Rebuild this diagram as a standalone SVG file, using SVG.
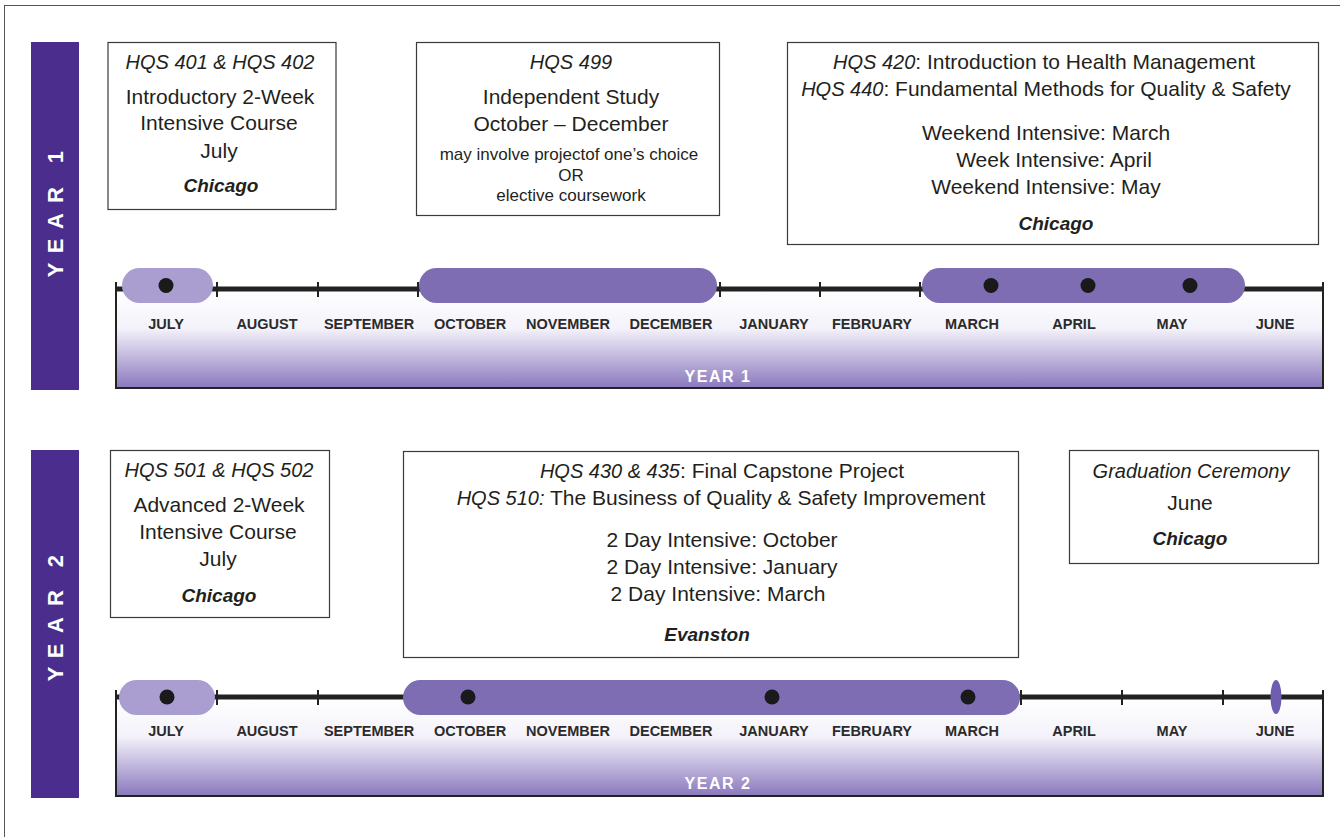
<svg xmlns="http://www.w3.org/2000/svg" width="1340" height="837" viewBox="0 0 1340 837">
<defs>
<linearGradient id="band" x1="0" y1="0" x2="0" y2="1">
<stop offset="0" stop-color="#ffffff"/>
<stop offset="0.4" stop-color="#f4f2fa"/>
<stop offset="1" stop-color="#8a78be"/>
</linearGradient>
<style>
text{font-family:"Liberation Sans",Arial,sans-serif;fill:#231f20;text-anchor:middle}
.t{font-size:21px}
.s{font-size:17px}
.i{font-style:italic;font-size:20px}
.city{font-style:italic;font-weight:bold;font-size:19px}
.m{font-size:14.5px;font-weight:bold;fill:#2b2b2b}
.yl{font-size:16px;font-weight:bold;fill:#ffffff;letter-spacing:1.5px}
.side{font-size:22px;font-weight:bold;fill:#ffffff}
.box{fill:#ffffff;stroke:#3a3a3a;stroke-width:1.2}
.bar{fill:#4a2d8d}
.axis{stroke:#222;stroke-width:5}
.tick{stroke:#222;stroke-width:2}
.edge{stroke:#222;stroke-width:2;fill:none}
.dark{fill:#7e6db3}
.light{fill:#aa9ed1}
.dot{fill:#1a1a1a}
</style>
</defs>
<rect x="4.5" y="5.5" width="1400" height="900" fill="none" stroke="#555" stroke-width="1"/>

<!-- Year 1 -->
<g id="year1-sidebar">
<rect class="bar" x="31" y="42" width="48" height="348"/>
<text class="side" transform="rotate(-90)" x="-270 -246 -221 -195 -176 -157" y="63">YEAR 1</text>
</g>

<g id="year1-timeline">
<rect x="116" y="289" width="1207" height="99" fill="url(#band)"/>
<path class="edge" d="M116 282 V388 H1323 V282"/>
<line class="axis" x1="116" y1="289" x2="1323" y2="289"/>
<line class="tick" x1="217" y1="282" x2="217" y2="297"/>
<line class="tick" x1="318" y1="282" x2="318" y2="297"/>
<line class="tick" x1="418" y1="282" x2="418" y2="297"/>
<line class="tick" x1="720" y1="282" x2="720" y2="297"/>
<line class="tick" x1="820" y1="282" x2="820" y2="297"/>
<line class="tick" x1="920" y1="282" x2="920" y2="297"/>
<rect class="light" x="122" y="268" width="91" height="35" rx="17.5"/>
<circle class="dot" cx="166" cy="285.5" r="7.5"/>
<rect class="dark" x="419" y="268" width="298" height="35" rx="17.5"/>
<rect class="dark" x="922" y="268" width="323" height="35" rx="17.5"/>
<circle class="dot" cx="991" cy="285.5" r="7.5"/>
<circle class="dot" cx="1088" cy="285.5" r="7.5"/>
<circle class="dot" cx="1190" cy="285.5" r="7.5"/>
<text class="m" x="166" y="329">JULY</text>
<text class="m" x="267" y="329">AUGUST</text>
<text class="m" x="369" y="329">SEPTEMBER</text>
<text class="m" x="470" y="329">OCTOBER</text>
<text class="m" x="568" y="329">NOVEMBER</text>
<text class="m" x="671" y="329">DECEMBER</text>
<text class="m" x="774" y="329">JANUARY</text>
<text class="m" x="872" y="329">FEBRUARY</text>
<text class="m" x="972" y="329">MARCH</text>
<text class="m" x="1074" y="329">APRIL</text>
<text class="m" x="1172" y="329">MAY</text>
<text class="m" x="1275" y="329">JUNE</text>
<text class="yl" x="718" y="382">YEAR 1</text>
</g>

<g id="box-hqs401">
<rect class="box" x="108" y="42.5" width="228" height="167"/>
<text class="i" x="220" y="69">HQS 401 &amp; HQS 402</text>
<text class="t" x="220" y="104">Introductory 2-Week</text>
<text class="t" x="219" y="130">Intensive Course</text>
<text class="t" x="219" y="158">July</text>
<text class="city" x="221" y="192">Chicago</text>
</g>

<g id="box-hqs499">
<rect class="box" x="416.5" y="42.5" width="303" height="173"/>
<text class="i" x="571" y="69">HQS 499</text>
<text class="t" x="571" y="104">Independent Study</text>
<text class="t" x="571" y="131">October – December</text>
<text class="s" x="569" y="160">may involve projectof one’s choice</text>
<text class="s" x="571" y="181">OR</text>
<text class="s" x="571" y="201">elective coursework</text>
</g>

<g id="box-hqs420">
<rect class="box" x="787.5" y="42.5" width="531" height="202"/>
<text class="t" x="1044" y="69"><tspan class="i">HQS 420</tspan>: Introduction to Health Management</text>
<text class="t" x="1046" y="96"><tspan class="i">HQS 440</tspan>: Fundamental Methods for Quality &amp; Safety</text>
<text class="t" x="1046" y="140">Weekend Intensive: March</text>
<text class="t" x="1054" y="167">Week Intensive: April</text>
<text class="t" x="1046" y="194">Weekend Intensive: May</text>
<text class="city" x="1056" y="230">Chicago</text>
</g>

<!-- Year 2 -->
<g id="year2-sidebar">
<rect class="bar" x="31" y="450" width="48" height="348"/>
<text class="side" transform="rotate(-90)" x="-674 -651 -625 -598 -579 -561" y="63">YEAR 2</text>
</g>

<g id="year2-timeline">
<rect x="116" y="697" width="1207" height="99" fill="url(#band)"/>
<path class="edge" d="M116 690 V796 H1323 V690"/>
<line class="axis" x1="116" y1="697" x2="1323" y2="697"/>
<line class="tick" x1="217" y1="690" x2="217" y2="705"/>
<line class="tick" x1="318" y1="690" x2="318" y2="705"/>
<line class="tick" x1="1021" y1="690" x2="1021" y2="705"/>
<line class="tick" x1="1122" y1="690" x2="1122" y2="705"/>
<line class="tick" x1="1223" y1="690" x2="1223" y2="705"/>
<rect class="light" x="119" y="680" width="96" height="35" rx="17.5"/>
<circle class="dot" cx="167" cy="697" r="7.5"/>
<rect class="dark" x="403" y="680" width="617" height="35" rx="17.5"/>
<circle class="dot" cx="468" cy="697" r="7.5"/>
<circle class="dot" cx="772" cy="697" r="7.5"/>
<circle class="dot" cx="968" cy="697" r="7.5"/>
<ellipse cx="1276" cy="697" rx="5.5" ry="17" fill="#6f5db0"/>
<text class="m" x="166" y="736">JULY</text>
<text class="m" x="267" y="736">AUGUST</text>
<text class="m" x="369" y="736">SEPTEMBER</text>
<text class="m" x="470" y="736">OCTOBER</text>
<text class="m" x="568" y="736">NOVEMBER</text>
<text class="m" x="671" y="736">DECEMBER</text>
<text class="m" x="774" y="736">JANUARY</text>
<text class="m" x="872" y="736">FEBRUARY</text>
<text class="m" x="972" y="736">MARCH</text>
<text class="m" x="1074" y="736">APRIL</text>
<text class="m" x="1172" y="736">MAY</text>
<text class="m" x="1275" y="736">JUNE</text>
<text class="yl" x="718" y="789">YEAR 2</text>
</g>

<g id="box-hqs501">
<rect class="box" x="110.5" y="450.5" width="219" height="167"/>
<text class="i" x="219" y="477">HQS 501 &amp; HQS 502</text>
<text class="t" x="219" y="512">Advanced 2-Week</text>
<text class="t" x="218" y="539">Intensive Course</text>
<text class="t" x="218" y="566">July</text>
<text class="city" x="219" y="602">Chicago</text>
</g>

<g id="box-hqs430">
<rect class="box" x="403.5" y="451.5" width="615" height="206"/>
<text class="t" x="722" y="478"><tspan class="i">HQS 430 &amp; 435</tspan>: Final Capstone Project</text>
<text class="t" x="721" y="505"><tspan class="i">HQS 510:</tspan> The Business of Quality &amp; Safety Improvement</text>
<text class="t" x="722" y="547">2 Day Intensive: October</text>
<text class="t" x="722" y="574">2 Day Intensive: January</text>
<text class="t" x="718" y="601">2 Day Intensive: March</text>
<text class="city" x="707" y="641">Evanston</text>
</g>

<g id="box-graduation">
<rect class="box" x="1069.5" y="450.5" width="249" height="113"/>
<text class="i" x="1191" y="478">Graduation Ceremony</text>
<text class="t" x="1190" y="510">June</text>
<text class="city" x="1190" y="545">Chicago</text>
</g>
</svg>
